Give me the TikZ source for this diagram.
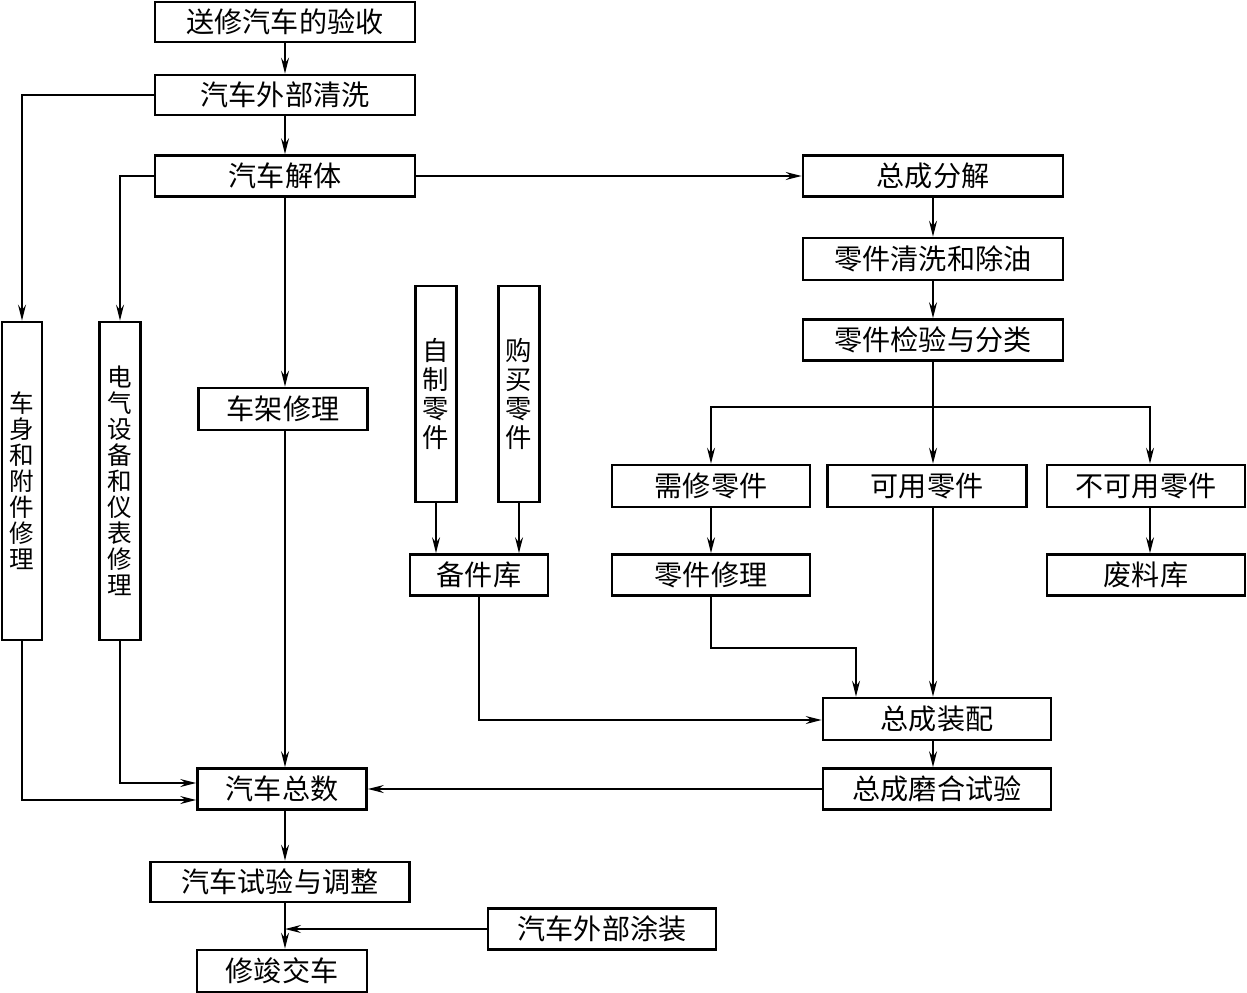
\documentclass[tikz,border=0pt]{standalone}
\usepackage{fontspec}
\newfontfamily\cjk{Noto Sans CJK SC}
\usetikzlibrary{arrows.meta}
\begin{document}
\begin{tikzpicture}[x=0.02cm,y=-0.02cm,
  box/.style={draw,line width=1.5pt,inner sep=0pt,font=\cjk\fontsize{16}{18}\selectfont},
  vbox/.style={draw,line width=1.5pt,inner sep=0pt,align=center,font=\cjk\fontsize{14}{14.8}\selectfont},
  vbox2/.style={draw,line width=1.5pt,inner sep=0pt,align=center,font=\cjk\fontsize{15}{16.4}\selectfont},
  sz/.style 2 args={minimum width=#1*0.02cm,minimum height=#2*0.02cm},
  ln/.style={line width=0.8pt},
  arr/.style={line width=0.8pt,-{Stealth[length=3.2mm,width=1.6mm,inset=1.1mm]}}]
\useasboundingbox (0,0) rectangle (1247,993);
% nodes
\node[box,sz={260}{40}] (a1) at (285,22) {送修汽车的验收};
\node[box,sz={260}{40}] (a2) at (285,95) {汽车外部清洗};
\node[box,sz={260}{41}] (a3) at (285,176) {汽车解体};
\node[box,sz={260}{41}] (b1) at (933,176) {总成分解};
\node[box,sz={260}{42}] (b2) at (933,259) {零件清洗和除油};
\node[box,sz={260}{41}] (b3) at (933,340) {零件检验与分类};
\node[vbox,sz={40}{318}] (c1) at (22,481) {车\\身\\和\\附\\件\\修\\理};
\node[vbox,sz={41}{318}] (c2) at (120,481) {电\\气\\设\\备\\和\\仪\\表\\修\\理};
\node[box,sz={169}{42}] (c3) at (283,409) {车架修理};
\node[vbox2,sz={41}{216}] (d1) at (436,394) {自\\制\\零\\件};
\node[vbox2,sz={41}{216}] (d2) at (519,394) {购\\买\\零\\件};
\node[box,sz={138}{41}] (d3) at (479,575) {备件库};
\node[box,sz={198}{42}] (e1) at (711,486) {需修零件};
\node[box,sz={199}{42}] (e2) at (927,486) {可用零件};
\node[box,sz={198}{42}] (e3) at (1146,486) {不可用零件};
\node[box,sz={198}{41}] (e4) at (711,575) {零件修理};
\node[box,sz={198}{41}] (e5) at (1146,575) {废料库};
\node[box,sz={228}{42}] (f1) at (937,719) {总成装配};
\node[box,sz={228}{41}] (f2) at (937,789) {总成磨合试验};
\node[box,sz={169}{41}] (g1) at (282,789) {汽车总数};
\node[box,sz={259}{40}] (g2) at (280,882) {汽车试验与调整};
\node[box,sz={228}{41}] (g3) at (602,929) {汽车外部涂装};
\node[box,sz={170}{42}] (g4) at (282,971) {修竣交车};
% helper coordinates
\coordinate (mx) at (285,0);
\coordinate (rx) at (933,0);
\coordinate (sp) at (933,407);
\coordinate (k1) at (22,95);
\coordinate (k2) at (120,176);
\coordinate (k3) at (22,800);
\coordinate (k4) at (120,783);
\coordinate (k5) at (711,648);
\coordinate (k6) at (856,648);
\coordinate (k7) at (479,720);
\coordinate (k8) at (285,929);
% connectors
\draw[arr] (a1.south -| mx) -- (a2.north -| mx);
\draw[arr] (a2.south -| mx) -- (a3.north -| mx);
\draw[arr] (a2.west) -- (k1) -- (c1.north);
\draw[arr] (a3.west) -- (k2) -- (c2.north);
\draw[arr] (a3.south -| mx) -- (c3.north -| mx);
\draw[arr] (a3.east) -- (b1.west);
\draw[arr] (b1.south -| rx) -- (b2.north -| rx);
\draw[arr] (b2.south -| rx) -- (b3.north -| rx);
\draw[ln] (b3.south -| rx) -- (sp);
\draw[arr] (sp) -| (e1.north);
\draw[arr] (sp) -| ([xshift=4*0.02cm]e3.north);
\draw[arr] (sp) -- (e2.north -| sp);
\draw[arr] (e1.south) -- (e4.north);
\draw[arr] ([xshift=4*0.02cm]e3.south) -- ([xshift=4*0.02cm]e5.north);
\draw[arr] (d1.south) -- (d1.south |- d3.north);
\draw[arr] (d2.south) -- (d2.south |- d3.north);
\draw[arr] (e4.south) -- (k5) -- (k6) -- (k6 |- f1.north);
\draw[arr] (e2.south -| sp) -- (f1.north -| sp);
\draw[arr] (d3.south) -- (k7) -- (k7 -| f1.west);
\draw[arr] (f1.south -| rx) -- (f2.north -| rx);
\draw[arr] (f2.west) -- (g1.east);
\draw[arr] (c3.south -| mx) -- (g1.north -| mx);
\draw[arr] (c1.south) -- (k3) -- (k3 -| g1.west);
\draw[arr] (c2.south) -- (k4) -- (k4 -| g1.west);
\draw[arr] (g1.south -| mx) -- (g2.north -| mx);
\draw[arr] (g2.south -| mx) -- (g4.north -| mx);
\draw[arr] (g3.west) -- (k8);
\end{tikzpicture}
\end{document}
